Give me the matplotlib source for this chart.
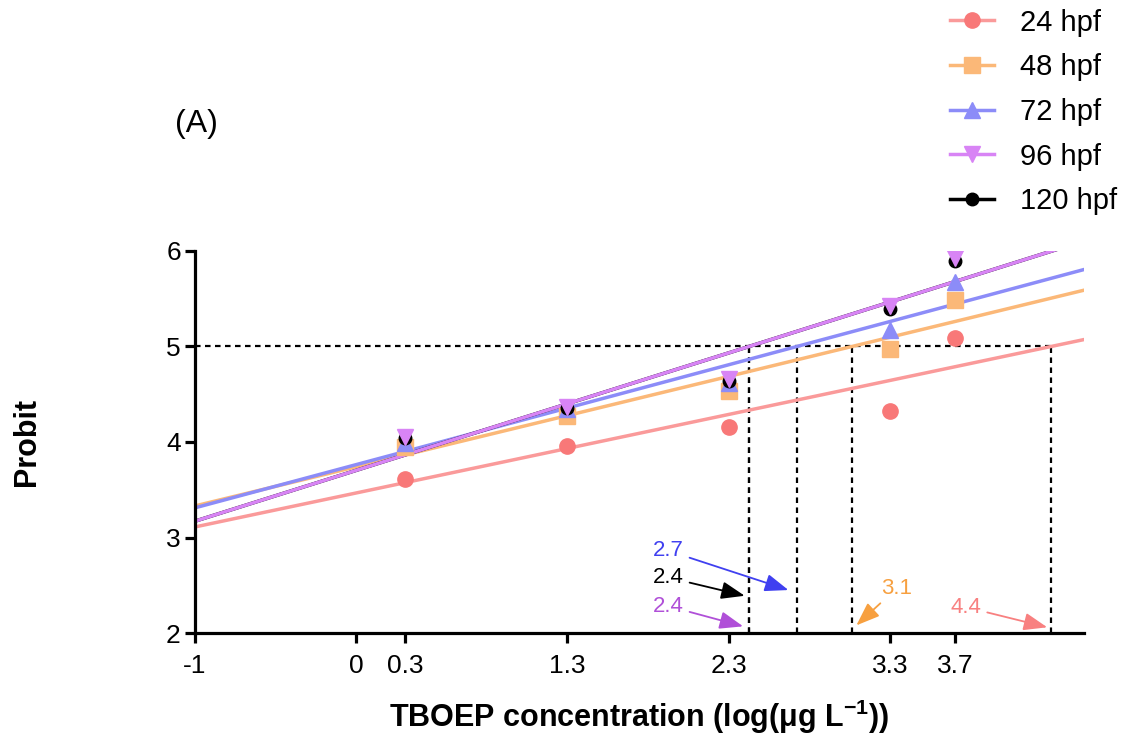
import matplotlib.pyplot as plt
import numpy as np

plt.rcParams['font.family'] = ['Liberation Sans', 'DejaVu Sans']
plt.rcParams['mathtext.fontset'] = 'custom'
plt.rcParams['mathtext.rm'] = 'Liberation Sans'
plt.rcParams['mathtext.bf'] = 'Liberation Sans:bold'

# exposure groups
labels = ['24 hpf', '48 hpf', '72 hpf', '96 hpf', '120 hpf']
conc = [0.3, 1.3, 2.3, 3.3, 3.7]

# probit values
p24 = [3.61, 3.96, 4.16, 4.32, 5.09]
p48 = [3.95, 4.27, 4.53, 4.97, 5.49]
p72 = [3.99, 4.35, 4.62, 5.17, 5.67]
p96 = [4.05, 4.37, 4.66, 5.42, 5.93]
p120 = [4.04, 4.36, 4.64, 5.39, 5.89]

# fitted probit lines: intercept at x=-1 and slope
icpt = [3.11, 3.33, 3.31, 3.17, 3.17]
slope = [0.357, 0.411, 0.454, 0.534, 0.534]

# EC50 annotations
ec_text = ['2.7', '2.4', '2.4', '3.1', '4.4']
ec_group = [2, 4, 3, 1, 0]
ec_txt_xy = [(1.93, 2.86), (1.93, 2.58), (1.93, 2.28), (3.34, 2.47), (3.77, 2.27)]
ec_tip_xy = [(2.67, 2.45), (2.40, 2.39), (2.39, 2.07), (3.09, 2.08), (4.27, 2.06)]

mk_col = ['#F87878', '#FBB878', '#8C8CF8', '#D884F5', '#000000']
ln_col = ['#FA9A9A', '#FBB878', '#8C8CF8', '#D884F5', '#000000']
txt_col = ['#F88080', '#F7A040', '#4040F0', '#B050D8', '#000000']
markers = ['o', 's', '^', 'v', 'o']
msize = [11, 11, 11, 11, 9]

fig = plt.figure(figsize=(11.32, 7.39), dpi=100)
ax = fig.add_axes([0.172, 0.1434, 0.786, 0.517])

series = [p24, p48, p72, p96, p120]
xx = np.array([-1, 4.5])
order = [0, 1, 2, 4, 3]
for i in order:
    ax.plot(xx, icpt[i] + slope[i] * (xx + 1), color=ln_col[i], lw=2.5, zorder=2)
for i in order:
    ax.plot(conc, series[i], linestyle='none', marker=markers[i], ms=msize[i],
            color=mk_col[i], zorder=3)

# legend handles
handles = []
for i in range(5):
    h, = ax.plot([], [], color=ln_col[i], lw=2.5, marker=markers[i], ms=msize[i],
                 markerfacecolor=mk_col[i], markeredgecolor=mk_col[i])
    handles.append(h)
fig.legend(handles, labels, loc='upper right', bbox_to_anchor=(1.0, 1.008),
           frameon=False, fontsize=21, handlelength=1.5, labelspacing=0.57,
           handletextpad=0.9, borderaxespad=0.1)

# EC50 dashed guides
ec50 = [(5 - icpt[i]) / slope[i] - 1 for i in range(5)]
ax.plot([-1, max(ec50)], [5, 5], color='black', ls=(0, (2.5, 2)), lw=1.6, zorder=1)
for x in ec50:
    ax.plot([x, x], [2, 5], color='black', ls=(0, (2.5, 2)), lw=1.6, zorder=1)

for t, g, txy, pxy in zip(ec_text, ec_group, ec_txt_xy, ec_tip_xy):
    ax.annotate(t, xy=pxy, xytext=txy, color=txt_col[g], fontsize=16,
                ha='center', va='center',
                arrowprops=dict(arrowstyle='-|>,head_length=0.8,head_width=0.3',
                                color=txt_col[g], lw=1.3,
                                mutation_scale=18, shrinkA=2, shrinkB=0))

ax.set_xlim(-1, 4.5)
ax.set_ylim(2, 6)
ax.set_xticks([-1, 0, 0.3, 1.3, 2.3, 3.3, 3.7])
ax.set_xticklabels(['-1', '0', '0.3', '1.3', '2.3', '3.3', '3.7'])
ax.set_yticks([2, 3, 4, 5, 6])
ax.spines['top'].set_visible(False)
ax.spines['right'].set_visible(False)
for s in ['left', 'bottom']:
    ax.spines[s].set_linewidth(2.3)
ax.tick_params(axis='both', width=2.3, length=7, labelsize=19, direction='out')
ax.tick_params(axis='x', pad=8)
ax.tick_params(axis='y', pad=3)

ax.set_xlabel(r'TBOEP concentration (log(μg L$\mathbf{^{-1}}$))', fontsize=22,
              fontweight='bold')
ax.xaxis.set_label_coords(0.5, -0.17)
ax.set_ylabel('Probit', fontsize=22, fontweight='bold')
ax.yaxis.set_label_coords(-0.172, 0.5)

fig.text(0.155, 0.822, '(A)', fontsize=23)

fig.savefig('out.png', dpi=100)
